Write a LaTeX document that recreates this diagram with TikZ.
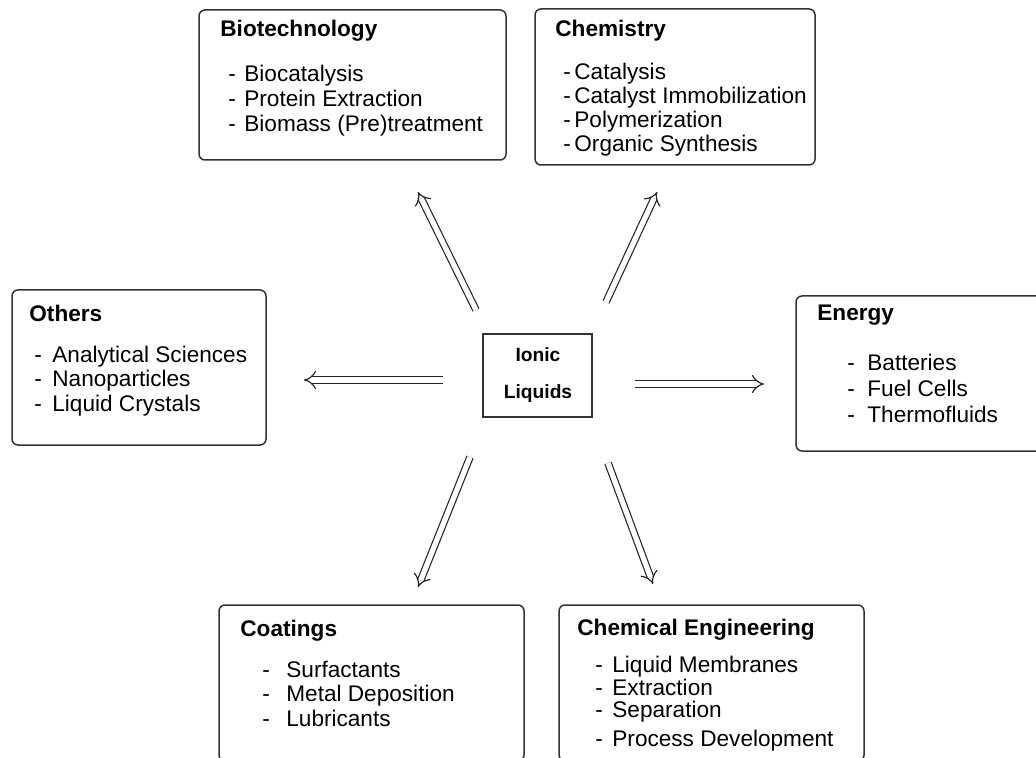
\documentclass[tikz,border=0pt]{standalone}
\usepackage{fontspec}
\setmainfont{Liberation Sans}
\usetikzlibrary{arrows.meta,positioning}

% hyphen set in a box of given width, then the entry
\newcommand{\dashitem}[2]{\makebox[#1][l]{-}#2}

\begin{document}
\begin{tikzpicture}[x=0.5pt,y=-0.5pt,
  panel/.style={draw=black!80,line width=0.75pt,rounded corners=3pt,inner sep=0pt},
  core/.style={draw=black!80,line width=0.75pt,inner sep=0pt},
  head/.style={font=\fontsize{11.3}{13}\selectfont\bfseries,anchor=base west,inner sep=0pt},
  % lists are anchored on the baseline of their last line
  items/.style={align=left,anchor=base west,inner sep=0pt,font=\fontsize{11.3}{#1}\selectfont},
  items/.default=12.5pt,
  flow/.style={double=white,double distance=2.6pt,line width=0.6pt,draw=black!85,-{Implies[scale=1.5]}}]
\clip (0,0) rectangle (1036,758);

% boxes
\node[panel,minimum width=153.5pt,minimum height=75pt] (bio)  at (352.5,85) {};
\node[panel,minimum width=140pt,minimum height=78pt] (chem) at (675,87) {};
\node[panel,minimum width=127pt,minimum height=77.5pt] (oth)  at (139,367.5) {};
\node[panel,minimum width=124pt,minimum height=77.5pt] (eng)  at (920,373.5) {};
\node[panel,minimum width=152.5pt,minimum height=78pt] (coat) at (371.5,683) {};
\node[panel,minimum width=152.5pt,minimum height=78pt] (ceng) at (711.5,683) {};
\node[core,minimum width=54.5pt,minimum height=41.5pt] (il) at (537.5,375.5) {};

% centre label
\node[font=\fontsize{9.6}{18}\selectfont\bfseries,align=center,anchor=base,inner sep=0pt]
  (iltext) at (538,398) {Ionic\\Liquids};

% Biotechnology
\node[head] (biohead) at (220,37) {Biotechnology};
\node[items=12.5pt] (bioitems) at (228,132) {\dashitem{8pt}{Biocatalysis}\\
  \dashitem{8pt}{Protein Extraction}\\ \dashitem{8pt}{Biomass (Pre)treatment}};

% Chemistry
\node[head] (chemhead) at (555,37) {Chemistry};
\node[items=12pt] (chemitems) at (563,152) {\dashitem{5.5pt}{Catalysis}\\
  \dashitem{5.5pt}{Catalyst Immobilization}\\ \dashitem{5.5pt}{Polymerization}\\
  \dashitem{5.5pt}{Organic Synthesis}};

% Others
\node[head] (othhead) at (29,322) {Others};
\node[items=12.25pt] (othitems) at (34,411) {\dashitem{9pt}{Analytical Sciences}\\
  \dashitem{9pt}{Nanoparticles}\\ \dashitem{9pt}{Liquid Crystals}};

% Energy
\node[head] (enghead) at (817,321) {Energy};
\node[items=12.75pt] (engitems) at (847,422) {\dashitem{10pt}{Batteries}\\
  \dashitem{10pt}{Fuel Cells}\\ \dashitem{10pt}{Thermofluids}};

% Coatings
\node[head] (coathead) at (240,636) {Coatings};
\node[items=12.25pt] (coatitems) at (262,726) {\dashitem{12pt}{Surfactants}\\
  \dashitem{12pt}{Metal Deposition}\\ \dashitem{12pt}{Lubricants}};

% Chemical Engineering
\node[head] (cenghead) at (577,635) {Chemical Engineering};
\node[items=11.25pt] (cengitems) at (595,746) {\dashitem{8.5pt}{Liquid Membranes}\\
  \dashitem{8.5pt}{Extraction}\\ \dashitem{8.5pt}{Separation}\\[3pt]
  \dashitem{8.5pt}{Process Development}};

% arrow ends
\coordinate (t1) at (476,310); \coordinate (h1) at (418,192);
\coordinate (t2) at (606,302); \coordinate (h2) at (657,192);
\coordinate (t3) at (443,380); \coordinate (h3) at (304,380);
\coordinate (t4) at (635,384); \coordinate (h4) at (764,384);
\coordinate (t5) at (470,457); \coordinate (h5) at (418,587);
\coordinate (t6) at (608,463); \coordinate (h6) at (653,584);

\draw[flow] (t1) -- (h1);
\draw[flow] (t2) -- (h2);
\draw[flow] (t3) -- (h3);
\draw[flow] (t4) -- (h4);
\draw[flow] (t5) -- (h5);
\draw[flow] (t6) -- (h6);

\end{tikzpicture}
\end{document}
